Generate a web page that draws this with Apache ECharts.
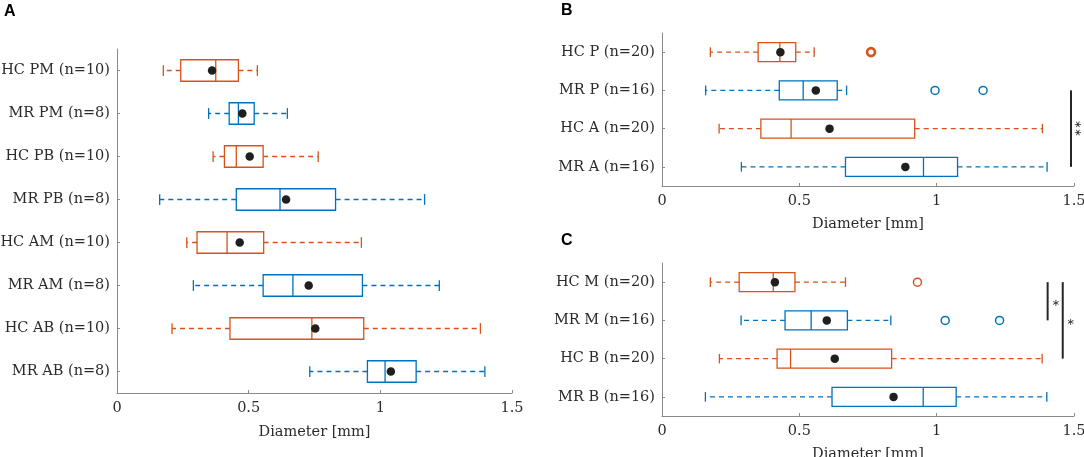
<!DOCTYPE html>
<html><head><meta charset="utf-8">
<script src="https://cdn.jsdelivr.net/npm/echarts@6/dist/echarts.min.js"></script>
<style>html,body{margin:0;padding:0;background:#fff}#c{width:1084px;height:457px}</style>
</head><body><div id="c"></div>
<script>
// ---------- Panel A ----------
const catsA = ['HC PM (n=10)','MR PM (n=8)','HC PB (n=10)','MR PB (n=8)','HC AM (n=10)','MR AM (n=8)','HC AB (n=10)','MR AB (n=8)'];
const lowA  = [0.176, 0.348, 0.365, 0.162, 0.265, 0.290, 0.209, 0.732];
const q1A   = [0.242, 0.426, 0.408, 0.453, 0.304, 0.555, 0.429, 0.951];
const medA  = [0.375, 0.461, 0.453, 0.619, 0.418, 0.668, 0.740, 1.018];
const q3A   = [0.461, 0.521, 0.555, 0.830, 0.557, 0.932, 0.937, 1.136];
const highA = [0.533, 0.647, 0.764, 1.168, 0.928, 1.224, 1.380, 1.397];
const meanA = [0.361, 0.476, 0.504, 0.642, 0.466, 0.728, 0.753, 1.040];
const outA  = [];
const sigA  = [];

// ---------- Panel B ----------
const catsB = ['HC P (n=20)','MR P (n=16)','HC A (n=20)','MR A (n=16)'];
const lowB  = [0.176, 0.159, 0.208, 0.289];
const q1B   = [0.350, 0.427, 0.360, 0.668];
const medB  = [0.429, 0.514, 0.470, 0.952];
const q3B   = [0.487, 0.638, 0.920, 1.076];
const highB = [0.554, 0.672, 1.385, 1.402];
const meanB = [0.431, 0.560, 0.610, 0.886];
const outB  = [[0.761, 0], [0.994, 1], [1.169, 1]];
const sigB  = [{x: 1.489, from: 1, to: 3, starX: 1.515, label: '∗∗'}];

// ---------- Panel C ----------
const catsC = ['HC M (n=20)','MR M (n=16)','HC B (n=20)','MR B (n=16)'];
const lowC  = [0.176, 0.288, 0.209, 0.158];
const q1C   = [0.281, 0.448, 0.419, 0.619];
const medC  = [0.405, 0.543, 0.468, 0.951];
const q3C   = [0.484, 0.675, 0.836, 1.071];
const highC = [0.668, 0.833, 1.384, 1.401];
const meanC = [0.411, 0.600, 0.629, 0.843];
const outC  = [[0.930, 0], [1.031, 1], [1.229, 1]];
const sigC  = [{x: 1.404, from: 0, to: 1, starX: 1.433, label: '∗'},
               {x: 1.459, from: 0, to: 2, starX: 1.487, label: '∗'}];

const xTicks = {min: 0, max: 1.5, interval: 0.5};

const FONT = 'DejaVu Serif';
const FS = 14.5;
const TXT = '#2b2b2b';
const AX = '#8a8a8a';
const ORANGE = '#D95319', BLUE = '#0072BD';
const colorOf = l => l.indexOf('HC') === 0 ? ORANGE : BLUE;

const panels = [
  {cats: catsA, low: lowA, q1: q1A, med: medA, q3: q3A, high: highA, mean: meanA, out: outA, sig: sigA,
   grid: {left: 117, top: 49, width: 395, height: 344}, nameGap: 32},
  {cats: catsB, low: lowB, q1: q1B, med: medB, q3: q3B, high: highB, mean: meanB, out: outB, sig: sigB,
   grid: {left: 662, top: 33, width: 412, height: 153}, nameGap: 31},
  {cats: catsC, low: lowC, q1: q1C, med: medC, q3: q3C, high: highC, mean: meanC, out: outC, sig: sigC,
   grid: {left: 662, top: 263, width: 412, height: 153}, nameGap: 31}
];

const grids = [], xAxes = [], yAxes = [], series = [];
panels.forEach((p, gi) => {
  grids.push(Object.assign({containLabel: false, outerBoundsMode: 'none'}, p.grid));
  xAxes.push({
    gridIndex: gi, type: 'value', min: xTicks.min, max: xTicks.max, interval: xTicks.interval,
    axisLine: {show: true, lineStyle: {color: AX, width: 1}},
    axisTick: {show: true, inside: true, length: 3, lineStyle: {color: AX}},
    axisLabel: {color: TXT, fontFamily: FONT, fontSize: FS, margin: 8},
    splitLine: {show: false},
    name: 'Diameter [mm]', nameLocation: 'middle', nameGap: p.nameGap,
    nameTextStyle: {color: TXT, fontFamily: FONT, fontSize: FS}
  });
  yAxes.push({
    gridIndex: gi, type: 'category', data: p.cats, inverse: true,
    axisLine: {show: true, lineStyle: {color: AX, width: 1}},
    axisTick: {show: true, inside: true, alignWithLabel: true, length: 3, lineStyle: {color: AX}},
    axisLabel: {color: TXT, fontFamily: FONT, fontSize: FS, margin: 7},
    splitLine: {show: false}
  });
  // boxes
  series.push({
    type: 'custom', xAxisIndex: gi, yAxisIndex: gi, clip: false, z: 2,
    data: p.cats.map((c, i) => [i, p.low[i], p.q1[i], p.med[i], p.q3[i], p.high[i]]),
    encode: {x: [1, 2, 3, 4, 5], y: 0},
    renderItem: function (params, api) {
      const ci = api.value(0);
      const band = api.size([0, 1])[1];
      const cy = api.coord([0, ci])[1];
      const X = v => api.coord([v, ci])[0];
      const lo = X(api.value(1)), q1 = X(api.value(2)), md = X(api.value(3)), q3 = X(api.value(4)), hi = X(api.value(5));
      const hb = band * 0.25, hc = band * 0.125;
      const col = colorOf(p.cats[ci]);
      const lw = 1.3;
      const solid = {stroke: col, lineWidth: lw, fill: null};
      const dash = {stroke: col, lineWidth: lw, lineDash: [5, 4], fill: null};
      return {type: 'group', children: [
        {type: 'line', shape: {x1: q1, y1: cy, x2: lo, y2: cy}, style: dash},
        {type: 'line', shape: {x1: q3, y1: cy, x2: hi, y2: cy}, style: dash},
        {type: 'line', shape: {x1: lo, y1: cy - hc, x2: lo, y2: cy + hc}, style: solid},
        {type: 'line', shape: {x1: hi, y1: cy - hc, x2: hi, y2: cy + hc}, style: solid},
        {type: 'rect', shape: {x: q1, y: cy - hb, width: q3 - q1, height: 2 * hb}, style: {stroke: col, lineWidth: lw, fill: 'rgba(0,0,0,0)'}},
        {type: 'line', shape: {x1: md, y1: cy - hb, x2: md, y2: cy + hb}, style: solid}
      ]};
    }
  });
  // means
  series.push({
    type: 'scatter', xAxisIndex: gi, yAxisIndex: gi, z: 5, symbol: 'circle', symbolSize: 8.5,
    itemStyle: {color: '#1f1f1f', opacity: 1},
    data: p.mean.map((v, i) => [v, i])
  });
  // outliers
  if (p.out.length) {
    series.push({
      type: 'scatter', xAxisIndex: gi, yAxisIndex: gi, z: 4, symbol: 'circle', symbolSize: 8,
      data: p.out.map(o => ({value: [o[0], o[1]],
        itemStyle: {color: 'rgba(0,0,0,0)', borderColor: colorOf(p.cats[o[1]]), borderWidth: o[1] === 0 && gi === 1 ? 2.6 : 1.5, opacity: 1}}))
    });
  }
  // significance bars
  if (p.sig.length) {
    series.push({
      type: 'custom', xAxisIndex: gi, yAxisIndex: gi, clip: false, z: 6,
      data: p.sig.map(s => [s.x, s.from, s.to, s.starX]),
      encode: {x: [0, 3], y: [1, 2]},
      renderItem: function (params, api) {
        const s = p.sig[params.dataIndex];
        const a = api.coord([api.value(0), api.value(1)]);
        const b = api.coord([api.value(0), api.value(2)]);
        const sx = api.coord([api.value(3), api.value(1)])[0];
        const my = (a[1] + b[1]) / 2;
        const rot = s.label.length > 1;
        return {type: 'group', children: [
          {type: 'line', shape: {x1: a[0], y1: a[1], x2: b[0], y2: b[1]}, style: {stroke: '#262626', lineWidth: 2}},
          {type: 'text', x: sx, y: my + (rot ? 0 : 2), rotation: rot ? Math.PI / 2 : 0,
           style: {text: s.label, x: 0, y: 0, fill: '#333', fontFamily: 'DejaVu Sans', fontSize: 10,
                   align: 'center', verticalAlign: 'middle'}}
        ]};
      }
    });
  }
});

const chart = echarts.init(document.getElementById('c'), null, {renderer: 'canvas'});
chart.setOption({
  animation: false,
  backgroundColor: '#ffffff',
  title: [
    {text: 'A', left: 4, top: 4, padding: 0, textStyle: {fontFamily: 'Liberation Sans', fontWeight: 'bold', fontSize: 16, color: '#000'}},
    {text: 'B', left: 561, top: 3, padding: 0, textStyle: {fontFamily: 'Liberation Sans', fontWeight: 'bold', fontSize: 16, color: '#000'}},
    {text: 'C', left: 561, top: 233, padding: 0, textStyle: {fontFamily: 'Liberation Sans', fontWeight: 'bold', fontSize: 16, color: '#000'}}
  ],
  grid: grids, xAxis: xAxes, yAxis: yAxes, series: series
});
</script></body></html>
